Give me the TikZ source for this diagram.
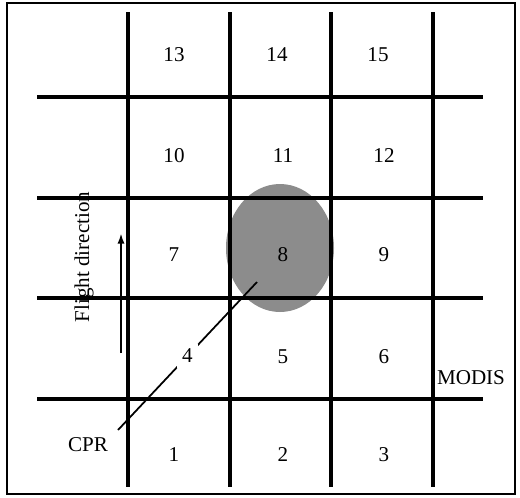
\documentclass[tikz,border=0pt]{standalone}
\usepackage{fontspec}
\setmainfont{Liberation Serif}
\usepackage{xcolor}
\usepackage{tikz}
\usetikzlibrary{arrows.meta, positioning}

\begin{document}
\begin{tikzpicture}[
        x=0.02cm, y=-0.02cm,
        font=\fontsize{12}{14}\selectfont,
        gridline/.style={line width=2pt},
        cell/.style={inner sep=1pt},
        arrow/.style={-{Latex[length=6pt,width=4pt]}, line width=1.5pt}
    ]
        \useasboundingbox (0,0) rectangle (520,497);
        \draw[line width=1.3pt] (7,3) rectangle (515,494);
        % footprint
        \fill[black!45] (280,248) ellipse [x radius=54, y radius=64];
        % MODIS pixels
        \foreach \x in {128,230,331,433}
            \draw[gridline] (\x,12) -- (\x,487);
        \foreach \y in {97,198,298,399}
            \draw[gridline] (37,\y) -- (483,\y);
        \node[cell] (n13) at (174,55) {13};
        \node[cell] (n14) at (277,55) {14};
        \node[cell] (n15) at (378,55) {15};
        \node[cell] (n10) at (174,156) {10};
        \node[cell] (n11) at (283,156) {11};
        \node[cell] (n12) at (384,156) {12};
        \node[cell] (n7) at (174,255) {7};
        \node[cell] (n8) at (283,255) {8};
        \node[cell] (n9) at (384,255) {9};
        \node[cell] (n5) at (283,357) {5};
        \node[cell] (n6) at (384,357) {6};
        \node[cell] (n1) at (174,455) {1};
        \node[cell] (n2) at (283,455) {2};
        \node[cell] (n3) at (384,455) {3};
        \node (modis) at (471,378) {MODIS};
        \node (cpr) at (88,445) {CPR};
        \node[rotate=90] (flight) at (84,257) {Flight direction};
        \coordinate (fstart) at (121,353);
        \coordinate (fend) at (121,233);
        \draw[arrow] (fstart) -- (fend);
        % CPR track
        \coordinate (cprstart) at (118,430);
        \coordinate (cprend) at (257,282);
        \draw[line width=1pt] (cprstart) -- node[fill=white, inner sep=3pt] (n4) {4} (cprend);
    \end{tikzpicture}
\end{document}
